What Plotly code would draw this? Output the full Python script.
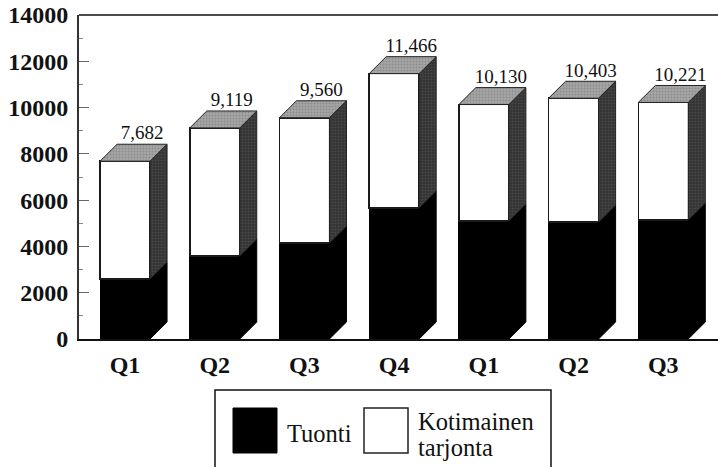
import plotly.graph_objects as go

quarters = ["Q1", "Q2", "Q3", "Q4", "Q1", "Q2", "Q3"]
totals = [7682, 9119, 9560, 11466, 10130, 10403, 10221]
tuonti = [2590, 3585, 4147, 5660, 5097, 5054, 5140]
kotimainen = [t - i for t, i in zip(totals, tuonti)]

BAR_W = 0.557
DX = 0.19      # 3D depth in x-axis units
DY = 734       # 3D depth in y-axis units
SERIF = "Liberation Serif"
PLOT_L, PLOT_W, PLOT_B, PLOT_H = 79, 639, 339, 324


def px(v):
    return (v - PLOT_L) / PLOT_W


def py(v):
    return (PLOT_B - v) / PLOT_H


fig = go.Figure()
xs = list(range(len(quarters)))

fig.add_bar(x=xs, y=tuonti, width=BAR_W, marker=dict(color="#000000", line=dict(color="#000000", width=1)))
fig.add_bar(x=xs, y=kotimainen, width=BAR_W, marker=dict(color="#ffffff", line=dict(color="#1a1a1a", width=1.5)))


def face(fx, fy, bg, fg, line):
    fig.add_scatter(
        x=fx, y=fy, mode="lines", fill="toself", fillcolor=bg,
        fillpattern=dict(shape=".", bgcolor=bg, fgcolor=fg, size=3, solidity=0.4) if fg else None,
        line=dict(color=line, width=1), hoverinfo="skip",
    )


for x, imp, tot in zip(xs, tuonti, totals):
    r = x + BAR_W / 2
    l = x - BAR_W / 2
    face([r, r + DX, r + DX, r, r], [0, DY, imp + DY, imp, 0], "#000000", None, "#000000")
    face([r, r + DX, r + DX, r, r], [imp, imp + DY, tot + DY, tot, imp], "#333333", "#5c5c5c", "#222222")
    face([l, r, r + DX, l + DX, l], [tot, tot, tot + DY, tot + DY, tot], "#a6a6a6", "#737373", "#222222")

fig.add_scatter(
    x=[x + DX for x in xs], y=[t + DY for t in totals], mode="text",
    text=[f"{t:,}" for t in totals], textposition="top center",
    textfont=dict(family=SERIF, size=19, color="#111111"), hoverinfo="skip",
)

shapes = [
    dict(type="rect", xref="paper", yref="paper", x0=px(215), x1=px(551), y0=py(472), y1=py(390),
         line=dict(color="#111111", width=1.5), fillcolor="white"),
    dict(type="rect", xref="paper", yref="paper", x0=px(233), x1=px(277), y0=py(453), y1=py(408),
         line=dict(color="#000000", width=1), fillcolor="black"),
    dict(type="rect", xref="paper", yref="paper", x0=px(364), x1=px(408), y0=py(453), y1=py(408),
         line=dict(color="#222222", width=1.5), fillcolor="white"),
    dict(type="line", xref="paper", yref="paper", x0=0, x1=1, y0=1, y1=1, line=dict(color="#111111", width=1.5)),
]
font_legend = dict(family=SERIF, size=24.5, color="#111111")
annotations = [
    dict(text="Tuonti", xref="paper", yref="paper", x=px(287), y=py(433), xanchor="left", yanchor="middle",
         xshift=-2, showarrow=False, font=font_legend),
    dict(text="Kotimainen", xref="paper", yref="paper", x=px(418), y=py(421), xanchor="left", yanchor="middle",
         xshift=-2, showarrow=False, font=font_legend),
    dict(text="tarjonta", xref="paper", yref="paper", x=px(418), y=py(447), xanchor="left", yanchor="middle",
         xshift=-2, showarrow=False, font=font_legend),
]

fig.update_layout(
    width=718, height=467, autosize=False, barmode="stack", showlegend=False,
    margin=dict(l=79, r=0, t=15, b=128, pad=0),
    paper_bgcolor="white", plot_bgcolor="white",
    shapes=shapes, annotations=annotations,
)
fig.update_xaxes(
    range=[-0.513, 6.61], tickmode="array", tickvals=xs, ticktext=quarters,
    ticks="", showgrid=False, zeroline=False, showline=True, linecolor="#111111", linewidth=2,
    ticklabelstandoff=3, tickfont=dict(family=SERIF, size=24, color="#111111", weight="bold"),
)
fig.update_yaxes(
    range=[0, 14000], tick0=0, dtick=2000, ticks="inside", ticklen=10, tickcolor="#666666", tickwidth=1,
    minor=dict(dtick=1000, ticks="inside", ticklen=4, tickcolor="#888888", tickwidth=1),
    showgrid=False, zeroline=False, showline=True, linecolor="#333333", linewidth=2,
    ticklabelstandoff=4, tickformat="d", tickfont=dict(family=SERIF, size=24, color="#111111", weight="bold"),
)

fig.write_html(
    "out.html",
    config=dict(displayModeBar=False),
    post_script="document.body.style.margin='0';document.body.style.overflow='hidden';",
)
